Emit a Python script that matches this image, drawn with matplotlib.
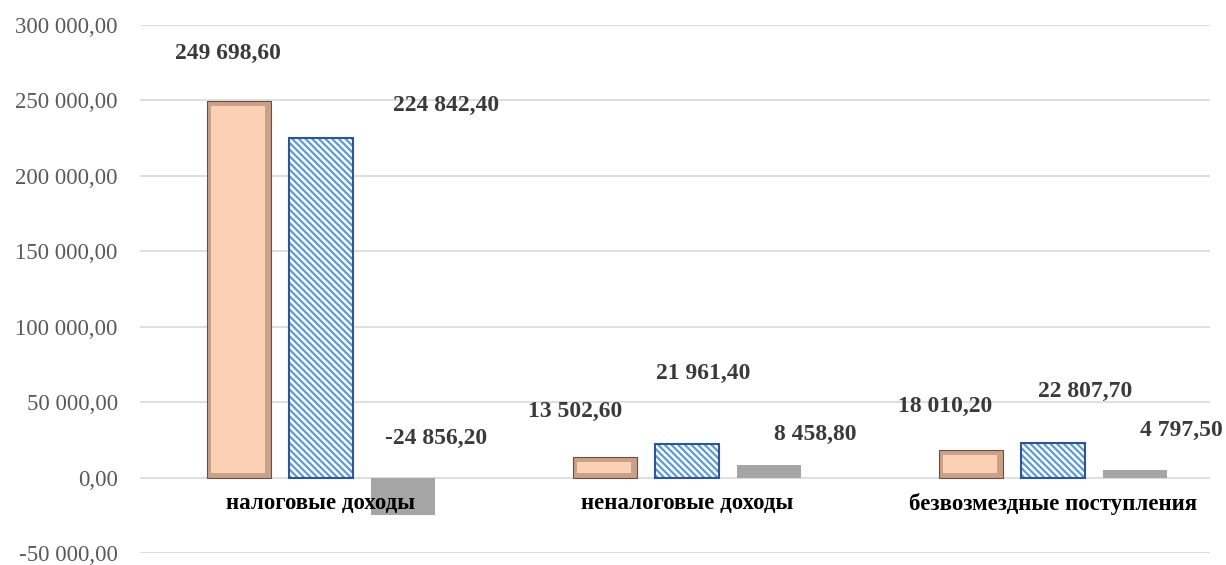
import matplotlib.pyplot as plt
import numpy as np
from matplotlib.ticker import FuncFormatter

# Data
categories = ["налоговые доходы", "неналоговые доходы", "безвозмездные поступления"]
plan = [249698.60, 13502.60, 18010.20]
fact = [224842.40, 21961.40, 22807.70]
diff = [-24856.20, 8458.80, 4797.50]

# where Excel put the data labels (offset from group centre, value-axis position)
label_dx = [[-0.254, 0.342, 0.314], [-0.306, 0.044, 0.350], [-0.295, 0.087, 0.350]]
label_y = [[280900, 246600, 25960], [43790, 68960, 28600], [47090, 57000, 31240]]


def fmt(v, decimals=2):
    s = f"{abs(v):,.{decimals}f}".replace(",", " ").replace(".", ",")
    return ("-" if v < 0 else "") + s


plt.rcParams['font.family'] = ['Liberation Serif', 'DejaVu Serif']
plt.rcParams['hatch.linewidth'] = 1.6

fig = plt.figure(figsize=(12.26, 5.65), dpi=100)
ax = fig.add_axes([140 / 1226, 12 / 565, 1070 / 1226, 528 / 565])

x = np.arange(len(categories))
w = 0.175
off = 0.224

# one pixel in data units, for the bevel
px_x = 1 / 366
px_y = 50000 / 75.4
bev = 5

# peach bars with a bevel
for xi, v in zip(x - off, plan):
    ax.bar(xi, v, w, color="#C9A088", zorder=2)
    ax.bar(xi - 1 * px_x, v - 2 * bev * px_y, w - 2 * bev * px_x, bottom=bev * px_y,
           color="#FBD0B5", zorder=3)
    ax.bar(xi, v, w, fill=False, edgecolor="#6B4F40", linewidth=0.8, zorder=4)

# hatched blue bars
ax.bar(x, fact, w, facecolor="white", edgecolor="#5B9BD5", hatch="\\\\\\\\\\",
       linewidth=0, zorder=2)
ax.bar(x, fact, w, fill=False, edgecolor="#2F5597", linewidth=1.5, zorder=4)

# gray bars
ax.bar(x + off, diff, w, color="#A5A5A5", zorder=2)

# data labels
series = [plan, fact, diff]
for i in range(len(categories)):
    for j in range(3):
        ax.text(x[i] + label_dx[i][j], label_y[i][j], fmt(series[j][i]),
                ha="center", va="center", fontsize=17, fontweight="bold",
                color="#3A3A3A")

# category labels
for xi, c in zip(x, categories):
    ax.text(xi, -17500, c, ha="center", va="center", fontsize=16.5,
            fontweight="bold", color="black")

ax.set_xlim(-0.4945, 2.429)
ax.set_ylim(-50000, 300000)
ax.set_yticks(np.arange(-50000, 300001, 50000))
ax.yaxis.set_major_formatter(FuncFormatter(lambda v, p: fmt(v)))
ax.tick_params(axis="y", length=0, pad=16, labelsize=16.5, labelcolor="#595959")
ax.set_xticks([])
ax.grid(axis="y", color="#D9D9D9", linewidth=1.2)
ax.set_axisbelow(True)
for s in ax.spines.values():
    s.set_visible(False)

fig.savefig("out.png", dpi=100)
